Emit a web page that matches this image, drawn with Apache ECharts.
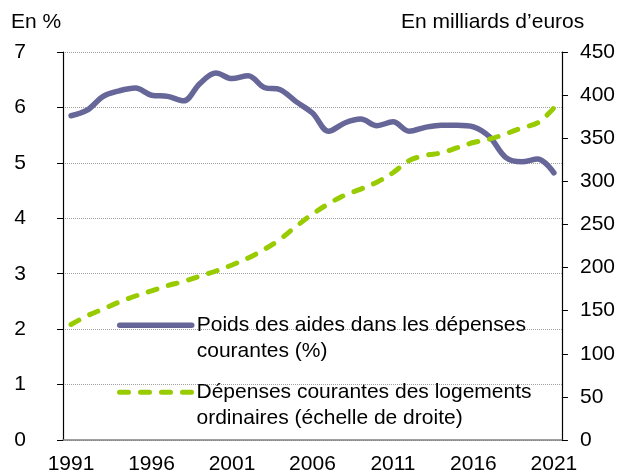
<!DOCTYPE html>
<html>
<head>
<meta charset="utf-8">
<script src="https://cdn.jsdelivr.net/npm/echarts@6/dist/echarts.min.js"></script>
<style>
html, body { margin: 0; padding: 0; background: #fff; }
#chart { width: 618px; height: 475px; }
</style>
</head>
<body>
<div id="chart"></div>
<script>
// annees
var years = ['1991', '1992', '1993', '1994', '1995', '1996', '1997', '1998', '1999', '2000',
	'2001', '2002', '2003', '2004', '2005', '2006', '2007', '2008', '2009', '2010',
	'2011', '2012', '2013', '2014', '2015', '2016', '2017', '2018', '2019', '2020', '2021'];
// poids des aides (%), echelle de gauche
var aides = [5.85, 5.95, 6.2, 6.3, 6.35, 6.22, 6.2, 6.12, 6.43, 6.62,
	6.52, 6.57, 6.36, 6.32, 6.1, 5.9, 5.57, 5.72, 5.79, 5.67,
	5.74, 5.57, 5.64, 5.68, 5.68, 5.65, 5.47, 5.1, 5.02, 5.07, 4.82];
// depenses courantes (milliards d'euros), echelle de droite
var depenses = [134, 144, 152, 160, 167, 173, 179, 184, 190, 196,
	203, 211, 221, 233, 248, 262, 274, 284, 291, 299,
	310, 324, 330, 333, 339, 345, 349, 355, 362, 368, 385];

var nomAides = 'Poids des aides dans les dépenses courantes (%)';
var nomDepenses = 'Dépenses courantes des logements ordinaires (échelle de droite)';
var legendeAides = ['Poids des aides dans les dépenses', 'courantes (%)'];
var legendeDepenses = ['Dépenses courantes des logements', 'ordinaires (échelle de droite)'];
var titreGauche = 'En %';
var titreDroite = 'En milliards d’euros';

var police = "'Liberation Sans', Arial, sans-serif";
var violet = '#666699';
var vert = '#99cc00';

var myChart = echarts.init(document.getElementById('chart'));

function legendLines(lines) {
	// ligne vide en tete pour aligner le trait sur la 1ere ligne
	return ' \n' + lines.join('\n');
}

var option = {
	animation: false,
	backgroundColor: '#fff',
	title: [{
		text: titreGauche,
		left: 11,
		top: 12,
		padding: 0,
		textStyle: { color: '#000', fontSize: 21, fontWeight: 'normal', fontFamily: police }
	}, {
		text: titreDroite,
		left: 401,
		top: 12,
		padding: 0,
		textStyle: { color: '#000', fontSize: 21, fontWeight: 'normal', fontFamily: police }
	}],
	grid: {
		left: 63,
		right: 55,
		top: 52,
		bottom: 34
	},
	legend: [{
		data: [nomAides],
		left: 117,
		top: 287,
		padding: 0,
		itemWidth: 72,
		itemHeight: 12,
		itemStyle: { opacity: 0 },
		lineStyle: { width: 5.5 },
		textStyle: { color: '#000', fontSize: 21, fontFamily: police, lineHeight: 25.5 },
		formatter: function() { return legendLines(legendeAides); }
	}, {
		data: [nomDepenses],
		left: 117,
		top: 354,
		padding: 0,
		itemWidth: 72,
		itemHeight: 12,
		itemStyle: { opacity: 0 },
		lineStyle: { width: 5 },
		textStyle: { color: '#000', fontSize: 21, fontFamily: police, lineHeight: 25.5 },
		formatter: function() { return legendLines(legendeDepenses); }
	}],
	xAxis: {
		type: 'category',
		data: years,
		boundaryGap: true,
		axisLine: { lineStyle: { color: '#808080', width: 1.5 } },
		axisTick: { interval: 4, length: 6, lineStyle: { color: '#606060', width: 1 } },
		axisLabel: { interval: 4, margin: 14, color: '#000', fontSize: 21, fontFamily: police },
		splitLine: { show: false }
	},
	yAxis: [{
		type: 'value',
		min: 0,
		max: 7,
		interval: 1,
		position: 'left',
		axisLine: { show: true, lineStyle: { color: '#000', width: 1.2 } },
		axisTick: { show: true, length: 6, lineStyle: { color: '#000' } },
		axisLabel: { margin: 37, color: '#000', fontSize: 21, fontFamily: police },
		splitLine: { show: true, lineStyle: { color: '#a0a0a0', type: 'dotted', width: 1 } }
	}, {
		type: 'value',
		min: 0,
		max: 450,
		interval: 50,
		position: 'right',
		axisLine: { show: true, lineStyle: { color: '#000', width: 1.2 } },
		axisTick: { show: true, length: 6, lineStyle: { color: '#000' } },
		axisLabel: { margin: 18, color: '#000', fontSize: 21, fontFamily: police },
		splitLine: { show: false }
	}],
	series: [{
		name: nomAides,
		type: 'line',
		yAxisIndex: 0,
		data: aides,
		symbol: 'none',
		smooth: 0.35,
		lineStyle: { color: violet, width: 5.5, cap: 'round' },
		itemStyle: { color: violet }
	}, {
		name: nomDepenses,
		type: 'line',
		yAxisIndex: 1,
		data: depenses,
		symbol: 'none',
		smooth: 0.35,
		lineStyle: { color: vert, width: 5, type: [9, 12], cap: 'round' },
		itemStyle: { color: vert }
	}]
};
myChart.setOption(option);
</script>
</body>
</html>
